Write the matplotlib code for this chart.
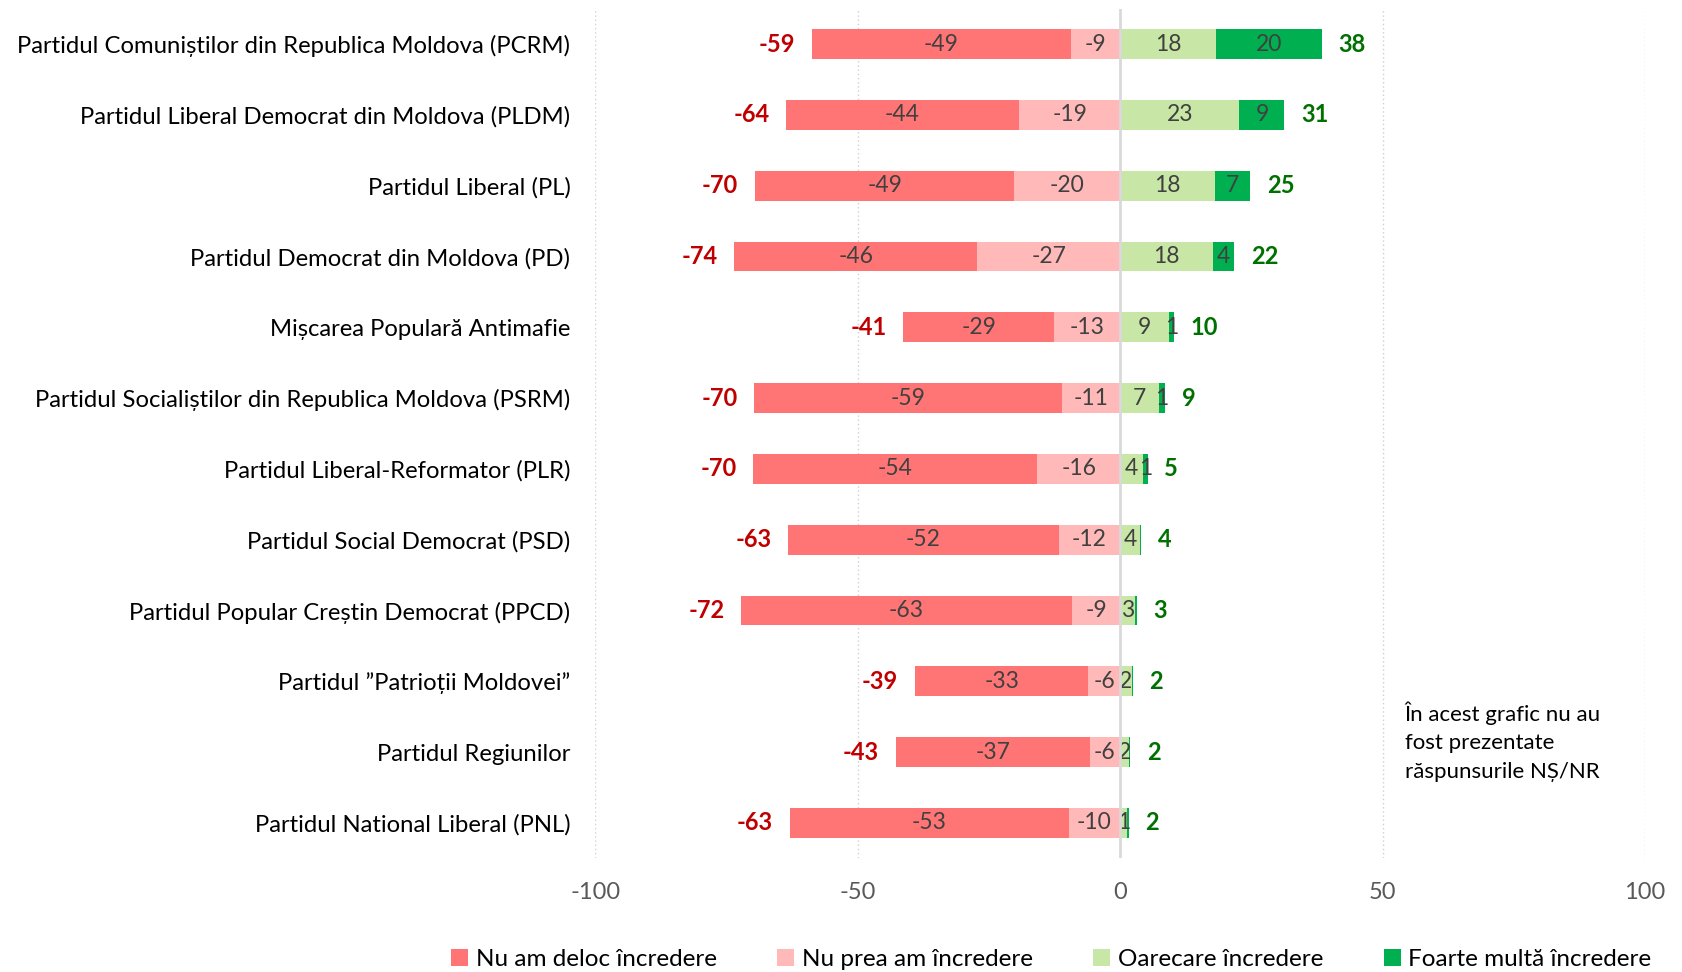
import numpy as np
import matplotlib.pyplot as plt

plt.rcParams['font.family'] = ['Lato', 'DejaVu Sans']
plt.rcParams['axes.unicode_minus'] = False

parties = [
    'Partidul Comuniștilor din Republica Moldova (PCRM)',
    'Partidul Liberal Democrat din Moldova (PLDM)',
    'Partidul Liberal (PL)',
    'Partidul Democrat din Moldova (PD)',
    'Mișcarea Populară Antimafie',
    'Partidul Socialiștilor din Republica Moldova (PSRM)',
    'Partidul Liberal-Reformator (PLR)',
    'Partidul Social Democrat (PSD)',
    'Partidul Popular Creștin Democrat (PPCD)',
    'Partidul ”Patrioții Moldovei”',
    'Partidul Regiunilor',
    'Partidul National Liberal (PNL)',
]

# shares in %, distrust as negative values
no_trust = [-49.4, -44.4, -49.4, -46.4, -28.7, -58.6, -54.1, -51.6, -63.0, -33.0, -37.0, -53.2]
little_trust = [-9.4, -19.3, -20.2, -27.2, -12.6, -11.1, -15.8, -11.7, -9.2, -6.1, -5.8, -9.8]
some_trust = [18.2, 22.7, 18.0, 17.6, 9.3, 7.4, 4.4, 3.7, 2.9, 2.2, 1.7, 1.2]
much_trust = [20.2, 8.6, 6.8, 4.1, 0.9, 1.2, 0.8, 0.3, 0.3, 0.2, 0.2, 0.4]

legend_labels = ['Nu am deloc încredere', 'Nu prea am încredere',
                 'Oarecare încredere', 'Foarte multă încredere']
colors = ['#FF7575', '#FFB9B9', '#C8E6A5', '#00B050']

y = np.arange(len(parties))
h = 0.42

fig = plt.figure(figsize=(16.82, 9.72), dpi=100)
ax = fig.add_axes([0.354, 0.117, 0.624, 0.874])

segments = [
    (little_trust, np.zeros(len(y))),
    (no_trust, np.array(little_trust)),
    (some_trust, np.zeros(len(y))),
    (much_trust, np.array(some_trust)),
]
order = [1, 0, 2, 3]
for k, (vals, left) in zip(order, segments):
    vals = np.array(vals)
    ax.barh(y, vals, left=left, height=h, color=colors[k], label=legend_labels[k], zorder=3)
    for yi, v, l in zip(y, vals, left):
        r = int(round(v))
        if r == 0:
            continue
        ax.text(l + v / 2, yi, str(r), ha='center', va='center',
                fontsize=16.5, color='#404040', zorder=4)

neg_tot = np.array(no_trust) + np.array(little_trust)
pos_tot = np.array(some_trust) + np.array(much_trust)
for yi, n, p in zip(y, neg_tot, pos_tot):
    ax.annotate(str(int(round(n))), (n, yi), xytext=(-12, 0), textcoords='offset points',
                ha='right', va='center', fontsize=17, fontweight='bold', color='#C00000')
    ax.annotate(str(int(round(p))), (p, yi), xytext=(12, 0), textcoords='offset points',
                ha='left', va='center', fontsize=17, fontweight='bold', color='#007000')

ax.set_xlim(-100, 100)
ax.set_ylim(len(y) - 0.5, -0.5)
ax.set_xticks([-100, -50, 0, 50, 100])
ax.set_yticks(y)
ax.set_yticklabels(parties, fontsize=17.2)
ax.tick_params(axis='y', length=0, pad=18)
ax.tick_params(axis='x', length=0, pad=17, labelsize=17, labelcolor='#595959')
for s in ax.spines.values():
    s.set_visible(False)
for gx in [-100, -50, 50, 100]:
    ax.axvline(gx, color='#D0D0D0', linestyle=(0, (1, 2)), linewidth=1, zorder=1)
ax.axvline(0, color='#D9D9D9', linewidth=2, zorder=5)

ax.text(0.771, 0.185, 'În acest grafic nu au\nfost prezentate\nrăspunsurile NȘ/NR',
        transform=ax.transAxes, fontsize=16, va='top', ha='left', linespacing=1.55)

handles, labels = ax.get_legend_handles_labels()
idx = [labels.index(l) for l in legend_labels]
fig.legend([handles[i] for i in idx], legend_labels, loc='lower center', ncol=4,
           bbox_to_anchor=(0.625, -0.02), frameon=False, fontsize=17.5,
           handlelength=0.7, handleheight=0.7, handletextpad=0.3, columnspacing=2.5)

fig.savefig('out.png', dpi=100)
